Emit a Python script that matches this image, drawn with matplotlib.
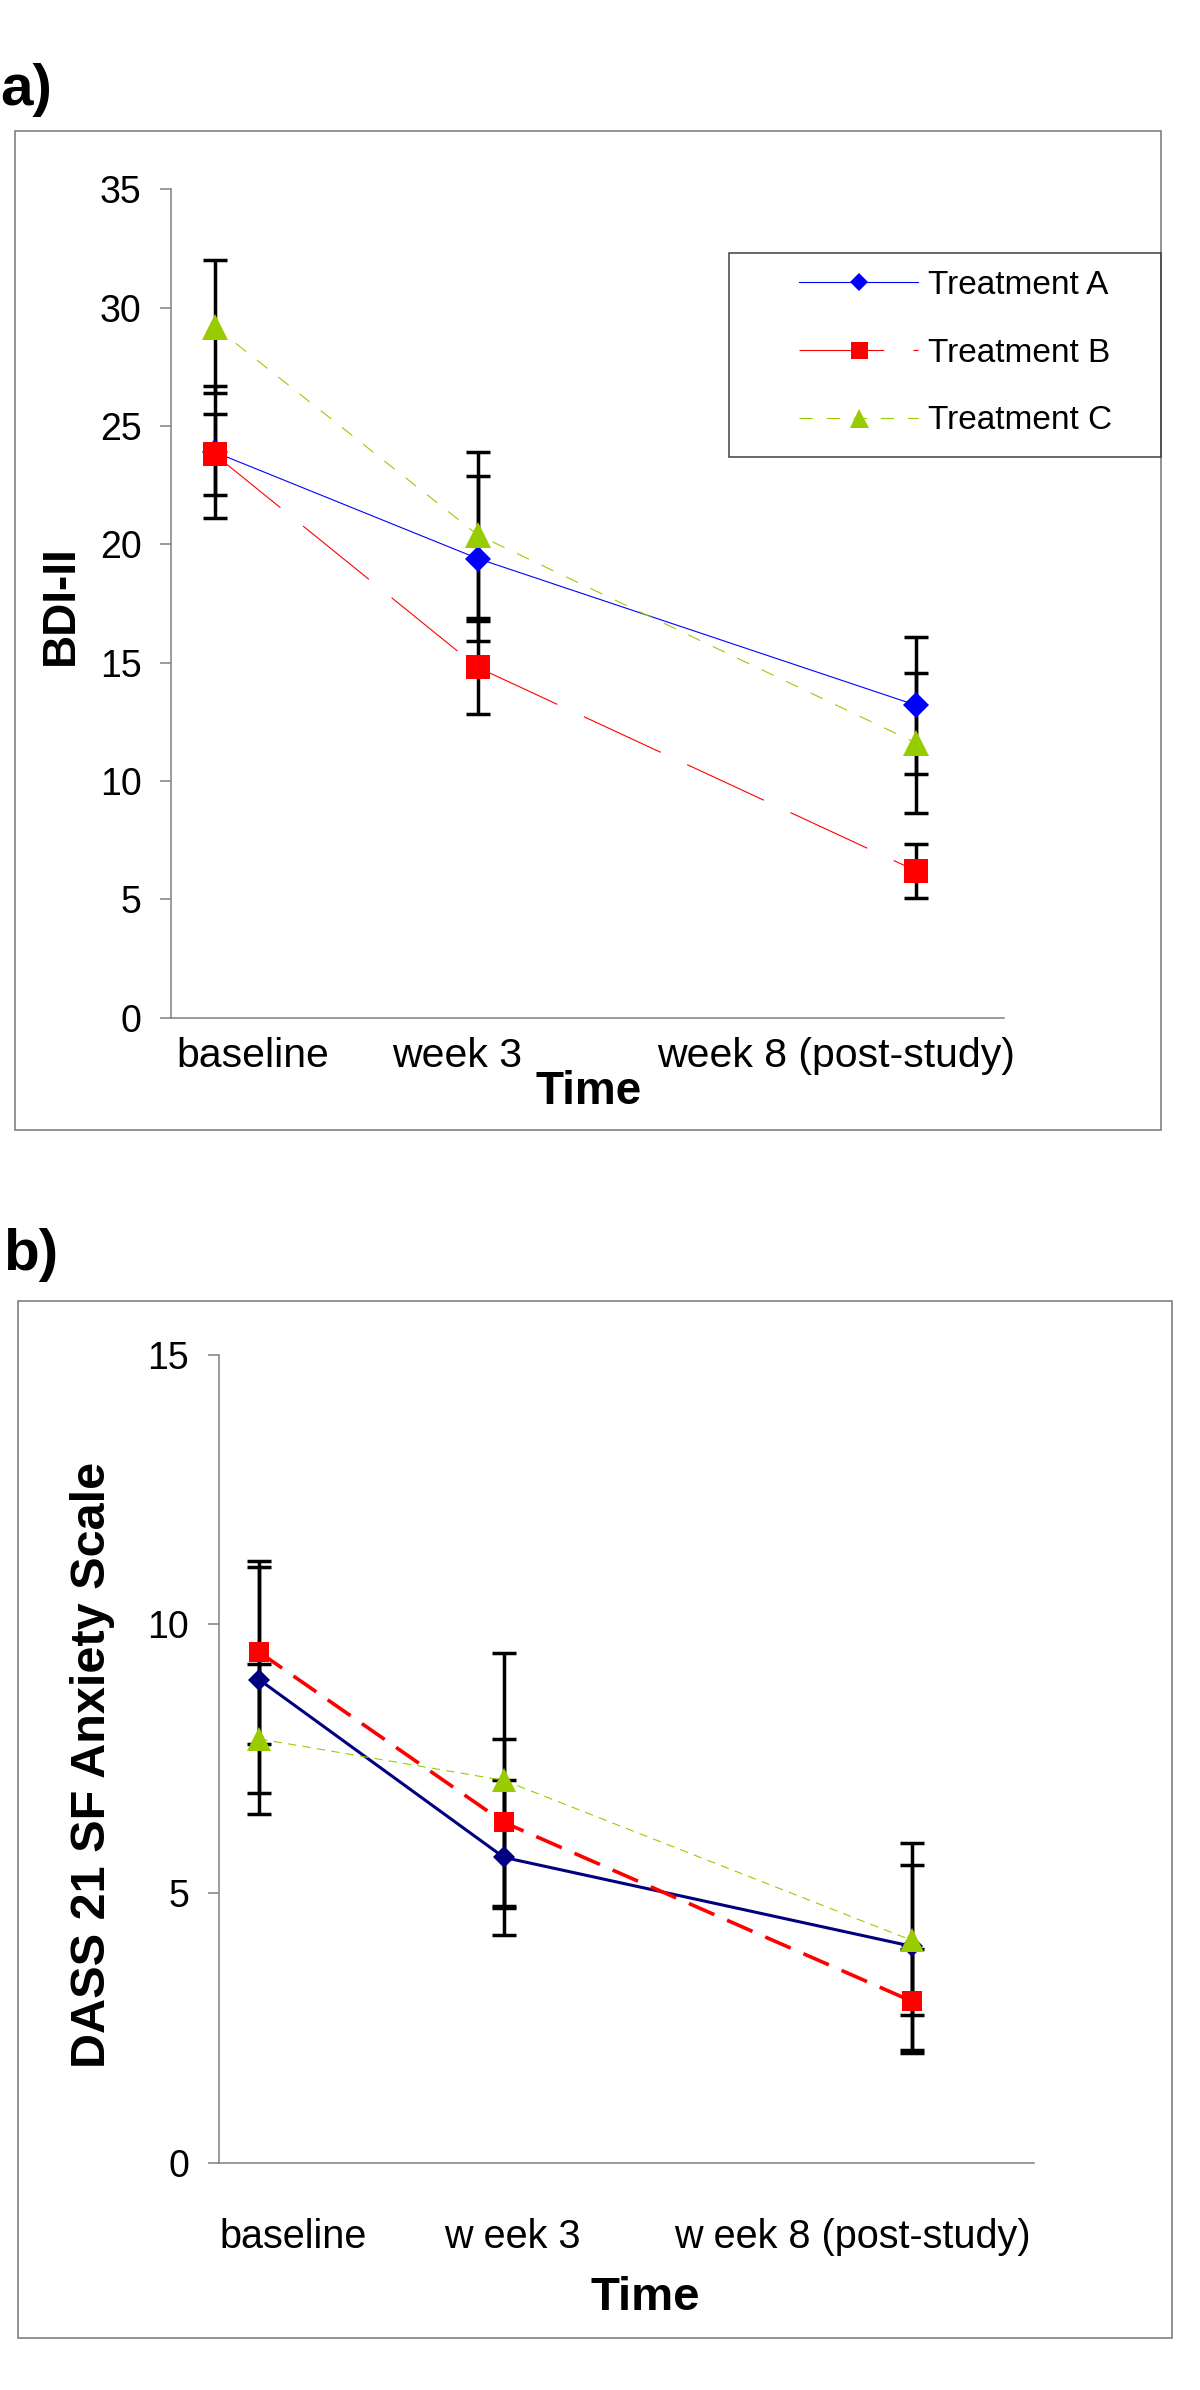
import matplotlib
matplotlib.use("Agg")
import matplotlib.pyplot as plt
from matplotlib.patches import Rectangle

plt.rcParams['font.family'] = ['Liberation Sans', 'DejaVu Sans']
plt.rcParams['lines.scale_dashes'] = False

# Time points (weeks) and axis labels
weeks = [0, 3, 8]
labels_a = ['baseline', 'week 3', 'week 8 (post-study)']
labels_b = ['baseline', 'w eek 3', 'w eek 8 (post-study)']
series = ['Treatment A', 'Treatment B', 'Treatment C']

# a) BDI-II means and error bars
bdi_a = [23.9, 19.4, 13.2]
bdi_a_err = [2.8, 3.5, 2.9]
bdi_b = [23.8, 14.8, 6.2]
bdi_b_err = [1.7, 1.95, 1.15]
bdi_c = [29.2, 20.4, 11.6]
bdi_c_err = [2.8, 3.5, 2.95]

# b) DASS 21 SF anxiety means and error bars
dass_a = [8.97, 5.67, 4.02]
dass_a_err = [2.1, 1.44, 1.92]
dass_b = [9.48, 6.32, 3.0]
dass_b_err = [1.7, 1.55, 0.97]
dass_c = [7.87, 7.10, 4.13]
dass_c_err = [1.4, 2.37, 1.39]

W, H = 1200, 2390
fig = plt.figure(figsize=(12, 23.9), dpi=100)


def fx(px):
    return px / W


def fy(py):
    return 1 - py / H


def frame(x0, y0, x1, y1, color='#808080', lw=1.2):
    fig.add_artist(Rectangle((fx(x0), fy(y1)), fx(x1) - fx(x0), fy(y0) - fy(y1),
                             transform=fig.transFigure, fill=False,
                             edgecolor=color, linewidth=lw))


def style_axes(ax, ymax, label_pos, labels, xsize, xpad):
    for s in ['top', 'right']:
        ax.spines[s].set_visible(False)
    for s in ['left', 'bottom']:
        ax.spines[s].set_color('#808080')
        ax.spines[s].set_linewidth(1.1)
    ax.set_ylim(0, ymax)
    ax.set_yticks(range(0, ymax + 1, 5))
    ax.tick_params(axis='y', direction='out', length=8, width=1.1,
                   color='#808080', labelsize=27, pad=13)
    ax.set_xticks(label_pos)
    ax.set_xticklabels(labels)
    ax.tick_params(axis='x', length=0, labelsize=xsize, pad=xpad)


err_kw = dict(fmt='none', ecolor='black', elinewidth=2.5, capsize=8.3,
              capthick=2.5, zorder=2)

# ---------------- panel a ----------------
frame(15, 130.7, 1160.7, 1130.3)
ax1 = fig.add_axes([fx(170.7), fy(1017.7), fx(1004) - fx(170.7), fy(189.3) - fy(1017.7)])
ax1.set_xlim(-0.5, 9.0)

ax1.errorbar(weeks, bdi_a, yerr=bdi_a_err, **err_kw)
ax1.errorbar(weeks, bdi_b, yerr=bdi_b_err, **err_kw)
ax1.errorbar(weeks, bdi_c, yerr=bdi_c_err, **err_kw)

la, = ax1.plot(weeks, bdi_a, color='#0000FF', lw=0.8, marker='D', ms=13, mew=0,
               zorder=3, label=series[0])
lb, = ax1.plot(weeks, bdi_b, color='#FF0000', lw=0.8, ls=(0, (61, 21)), marker='s',
               ms=17, mew=0, zorder=3, label=series[1])
lc, = ax1.plot(weeks, bdi_c, color='#99CC00', lw=0.8, ls=(0, (9.5, 10)), marker='^',
               ms=19, mew=0, zorder=3, label=series[2])

style_axes(ax1, 35, [0.44, 2.76, 7.08], labels_a, 29.5, 14)

# legend box
frame(729.3, 252.7, 1160.7, 456.7, color='#404040', lw=1.1)
fig.legend(handles=[la, lb, lc], loc='upper left',
           bbox_to_anchor=(fx(799.3), fy(270)), bbox_transform=fig.transFigure,
           frameon=False, fontsize=24, borderpad=0, borderaxespad=0,
           handlelength=3.57, handletextpad=0.3, labelspacing=1.1,
           markerscale=0.72)

fig.text(fx(0), fy(105), 'a)', fontsize=42, fontweight='bold', ha='left', va='baseline')
fig.text(fx(588.5), fy(1104), 'Time', fontsize=33, fontweight='bold', ha='center', va='baseline')
fig.text(fx(72.7), fy(605), 'BDI-II', fontsize=33, fontweight='bold', rotation=90,
         rotation_mode='anchor', ha='center', va='baseline')

# ---------------- panel b ----------------
frame(18.3, 1300.7, 1171.6, 2337.7)
ax2 = fig.add_axes([fx(218.5), fy(2162.7), fx(1034) - fx(218.5), fy(1355) - fy(2162.7)])
ax2.set_xlim(-0.5, 9.5)

ax2.errorbar(weeks, dass_a, yerr=dass_a_err, **err_kw)
ax2.errorbar(weeks, dass_b, yerr=dass_b_err, **err_kw)
ax2.errorbar(weeks, dass_c, yerr=dass_c_err, **err_kw)

ax2.plot(weeks, dass_a, color='#000080', lw=2.2, marker='D', ms=11.2, mew=0, zorder=3)
ax2.plot(weeks, dass_b, color='#FF0000', lw=2.6, ls=(0, (20, 10)), marker='s',
         ms=14.5, mew=0, zorder=3)
ax2.plot(weeks, dass_c, color='#99CC00', lw=0.8, ls=(0, (6, 4.5)), marker='^',
         ms=17, mew=0, zorder=3)

style_axes(ax2, 15, [0.41, 3.1, 7.27], labels_b, 28.5, 40)

fig.text(fx(3), fy(1270), 'b)', fontsize=42, fontweight='bold', ha='left', va='baseline')
fig.text(fx(645.5), fy(2310), 'Time', fontsize=34, fontweight='bold', ha='center', va='baseline')
fig.text(fx(105), fy(1765), 'DASS 21 SF Anxiety Scale', fontsize=35, fontweight='bold',
         rotation=90, rotation_mode='anchor', ha='center', va='baseline')

fig.savefig('out.png', dpi=100)
